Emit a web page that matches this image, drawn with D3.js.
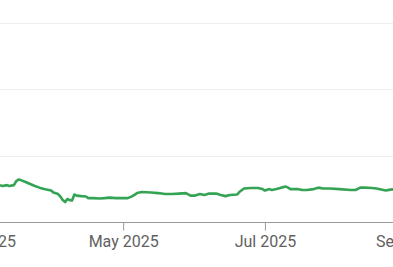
<!DOCTYPE html>
<html>
<head>
<meta charset="utf-8">
<script src="https://cdn.jsdelivr.net/npm/d3@7"></script>
<style>
  body { margin: 0; background: #fff; overflow: hidden; }
  svg { display: block; font-family: Roboto, Arial, sans-serif; }
</style>
</head>
<body>
<svg id="chart" width="393" height="267"></svg>
<script>
// price series
const dates = [
  "2025-03-09","2025-03-10","2025-03-12","2025-03-13","2025-03-15","2025-03-16","2025-03-17","2025-03-18",
  "2025-03-20","2025-03-22","2025-03-24","2025-03-26","2025-03-28","2025-03-31","2025-04-01","2025-04-03",
  "2025-04-04","2025-04-05","2025-04-06","2025-04-07","2025-04-08","2025-04-09","2025-04-10","2025-04-11",
  "2025-04-13","2025-04-15","2025-04-16","2025-04-18","2025-04-21","2025-04-23","2025-04-25","2025-04-28",
  "2025-04-30","2025-05-03","2025-05-05","2025-05-07","2025-05-09","2025-05-13","2025-05-16","2025-05-19",
  "2025-05-22","2025-05-25","2025-05-28","2025-05-30","2025-06-01","2025-06-03","2025-06-05","2025-06-07",
  "2025-06-10","2025-06-12","2025-06-14","2025-06-16","2025-06-19","2025-06-20","2025-06-22","2025-06-25",
  "2025-06-28","2025-06-30","2025-07-01","2025-07-03","2025-07-04","2025-07-06","2025-07-08","2025-07-10",
  "2025-07-11","2025-07-12","2025-07-15","2025-07-17","2025-07-19","2025-07-22","2025-07-24","2025-07-26",
  "2025-07-29","2025-08-02","2025-08-07","2025-08-09","2025-08-11","2025-08-13","2025-08-16","2025-08-18",
  "2025-08-21","2025-08-22","2025-08-24","2025-08-26"
];
const values = [
  27.8,27.1,27.8,27.1,27.8,30.8,32.0,31.6,
  30.1,28.6,27.1,25.9,24.8,23.7,22.2,21.1,
  19.2,16.5,15.0,17.3,16.5,16.2,20.7,19.9,
  19.5,19.2,18.0,18.0,17.7,18.0,18.4,18.0,
  18.0,18.0,19.5,21.8,22.6,22.2,21.8,21.1,
  21.1,21.4,21.8,19.9,19.9,21.1,20.3,21.4,
  21.4,20.3,19.5,20.3,20.7,22.6,25.2,25.6,
  25.6,24.8,23.7,24.8,24.1,24.8,25.9,26.7,
  25.9,24.8,24.8,24.1,24.1,24.8,25.9,25.2,
  25.2,24.8,24.1,24.1,25.9,25.9,25.6,25.2,
  24.1,23.7,24.4,24.8
];
const yTicks = [0, 50, 100, 150];
const xDomain = ["2025-03-01", "2025-09-01"];

const parse = d3.timeParse("%Y-%m-%d");
const data = dates.map((d, i) => ({ date: parse(d), value: values[i] }));

const svg = d3.select("#chart");
const width = 393;
const plotTop = 23, plotBottom = 222;

// the chart is cropped: Mar 1 sits just left of the view, Sep 1 just right
const x = d3.scaleTime()
  .domain(xDomain.map(parse))
  .range([-18.6, 409]);
const y = d3.scaleLinear()
  .domain([0, 150])
  .range([plotBottom, plotTop]);

// horizontal gridlines
svg.append("g")
  .selectAll("line")
  .data(yTicks.filter(t => t > 0))
  .join("line")
  .attr("x1", 0)
  .attr("x2", width)
  .attr("y1", d => Math.round(y(d)) + 0.5)
  .attr("y2", d => Math.round(y(d)) + 0.5)
  .attr("stroke", "#efefef")
  .attr("stroke-width", 1);

// x axis
const xAxis = d3.axisBottom(x)
  .ticks(d3.timeMonth.every(2))
  .tickFormat(d3.timeFormat("%b %Y"))
  .tickSizeOuter(0)
  .tickSize(8)
  .tickPadding(5);

const gx = svg.append("g")
  .attr("transform", `translate(0,${plotBottom + 0.5})`)
  .call(xAxis);
gx.select(".domain").attr("d", `M-20,0H${width + 20}`).attr("stroke", "#9a9a9a");
gx.selectAll(".tick line").attr("stroke", "#9a9a9a");
gx.selectAll(".tick text")
  .attr("fill", "#616161")
  .attr("font-size", 16)
  .attr("font-family", "Roboto, Arial, sans-serif");

// price line
svg.append("path")
  .datum(data)
  .attr("fill", "none")
  .attr("stroke", "#34a353")
  .attr("stroke-width", 2.6)
  .attr("stroke-linejoin", "round")
  .attr("d", d3.line().x(d => x(d.date)).y(d => y(d.value)));
</script>
</body>
</html>
